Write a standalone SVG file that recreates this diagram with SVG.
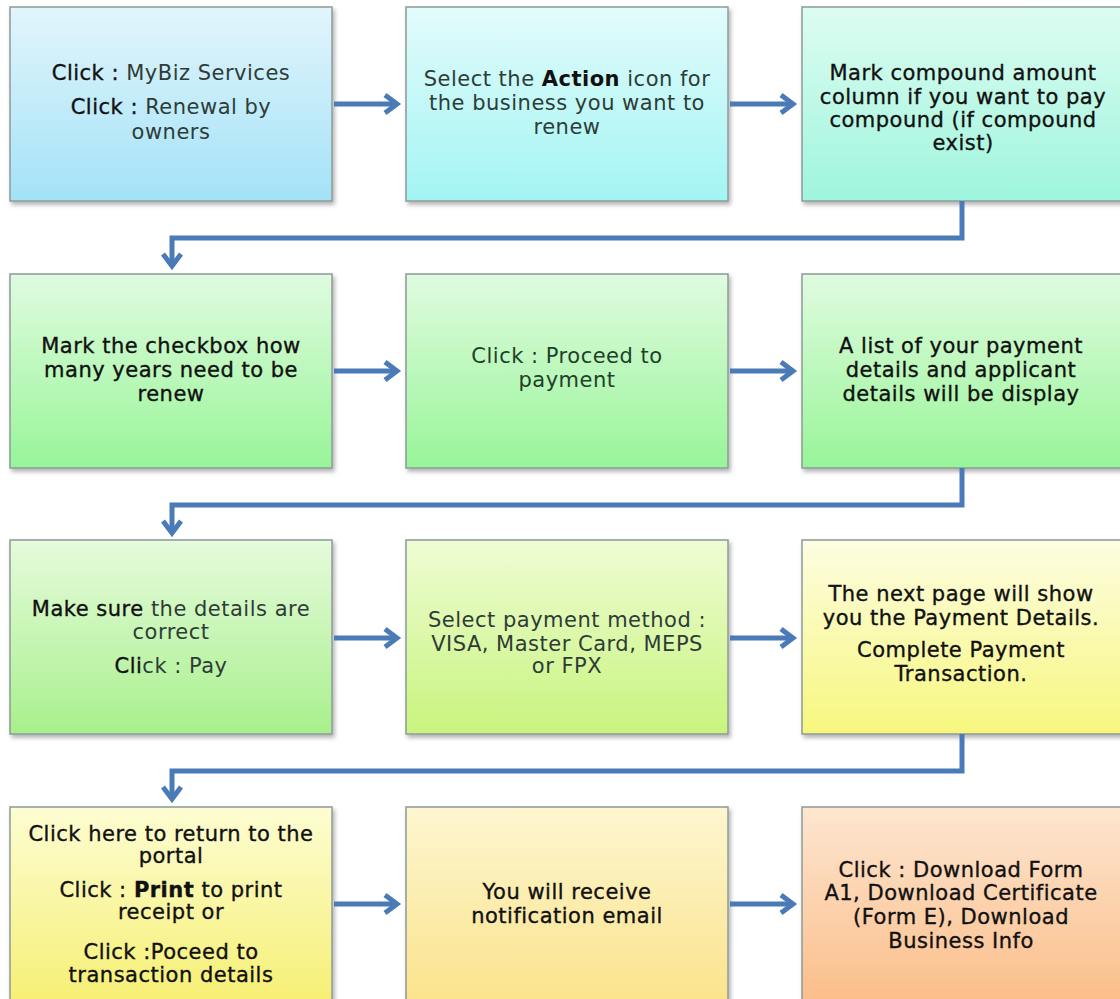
<svg xmlns="http://www.w3.org/2000/svg" width="1120" height="999" viewBox="0 0 1120 999">
<defs>
<style>
.box{stroke:#8c9a98;stroke-width:1.5;filter:url(#sh)}
.t{font-family:"DejaVu Sans","Verdana",sans-serif;font-size:21px;letter-spacing:0.5px;fill:#111;stroke:#111;stroke-width:0.35;text-anchor:middle}
.g{fill:#2e3c38;stroke:none}
.dg{fill:#21402a;stroke:none}
.b{font-weight:bold}
.c{fill:none;stroke:#4a7bb7;stroke-width:5;stroke-linejoin:miter}
.h{fill:none;stroke:#4a7bb7;stroke-width:5;stroke-linecap:butt;stroke-linejoin:miter}
</style>
<filter id="sh" x="-5%" y="-5%" width="112%" height="115%">
<feDropShadow dx="2" dy="3" stdDeviation="2" flood-color="#000" flood-opacity="0.3"/>
</filter>
<linearGradient id="g1" x1="0" y1="0" x2="0" y2="1"><stop offset="0" stop-color="#e2f5fc"/><stop offset="1" stop-color="#a3e2f7"/></linearGradient>
<linearGradient id="g2" x1="0" y1="0" x2="0" y2="1"><stop offset="0" stop-color="#e3fbfb"/><stop offset="1" stop-color="#a2f5f4"/></linearGradient>
<linearGradient id="g3" x1="0" y1="0" x2="0" y2="1"><stop offset="0" stop-color="#defcf1"/><stop offset="1" stop-color="#9ef5dd"/></linearGradient>
<linearGradient id="g4" x1="0" y1="0" x2="0" y2="1"><stop offset="0" stop-color="#e0fbe0"/><stop offset="1" stop-color="#98f598"/></linearGradient>
<linearGradient id="g7" x1="0" y1="0" x2="0" y2="1"><stop offset="0" stop-color="#e6fbdc"/><stop offset="1" stop-color="#a8f08c"/></linearGradient>
<linearGradient id="g8" x1="0" y1="0" x2="0" y2="1"><stop offset="0" stop-color="#effcd4"/><stop offset="1" stop-color="#c8f47e"/></linearGradient>
<linearGradient id="g9" x1="0" y1="0" x2="0" y2="1"><stop offset="0" stop-color="#fdfde2"/><stop offset="1" stop-color="#f7f77e"/></linearGradient>
<linearGradient id="g10" x1="0" y1="0" x2="0" y2="1"><stop offset="0" stop-color="#fdfdd2"/><stop offset="1" stop-color="#f6ef72"/></linearGradient>
<linearGradient id="g11" x1="0" y1="0" x2="0" y2="1"><stop offset="0" stop-color="#fdf6d0"/><stop offset="1" stop-color="#fbe38a"/></linearGradient>
<linearGradient id="g12" x1="0" y1="0" x2="0" y2="1"><stop offset="0" stop-color="#fde6d0"/><stop offset="1" stop-color="#fbbd88"/></linearGradient>
</defs>
<rect width="1120" height="999" fill="#fff"/>

<g id="n1"><rect class="box" x="10" y="7" width="322" height="194" fill="url(#g1)"/>
<text class="t" x="171" y="80">Click : <tspan class="g">MyBiz Services</tspan></text>
<text class="t" x="171" y="114">Click : <tspan class="g">Renewal by</tspan></text>
<text class="t" x="171" y="139"><tspan class="g">owners</tspan></text></g>

<g id="n2"><rect class="box" x="406" y="7" width="322" height="194" fill="url(#g2)"/>
<text class="t g" x="567" y="86">Select the <tspan class="b" style="fill:#111">Action</tspan> icon for</text>
<text class="t g" x="567" y="110">the business you want to</text>
<text class="t g" x="567" y="134">renew</text></g>

<g id="n3"><rect class="box" x="802" y="7" width="322" height="194" fill="url(#g3)"/>
<text class="t" x="963" y="80">Mark compound amount</text>
<text class="t" x="963" y="104">column if you want to pay</text>
<text class="t" x="963" y="127">compound (if compound</text>
<text class="t" x="963" y="150">exist)</text></g>

<g id="n4"><rect class="box" x="10" y="274" width="322" height="194" fill="url(#g4)"/>
<text class="t" x="171" y="353">Mark the checkbox how</text>
<text class="t" x="171" y="377">many years need to be</text>
<text class="t" x="171" y="401">renew</text></g>

<g id="n5"><rect class="box" x="406" y="274" width="322" height="194" fill="url(#g4)"/>
<text class="t dg" x="567" y="363">Click : Proceed to</text>
<text class="t dg" x="567" y="387">payment</text></g>

<g id="n6"><rect class="box" x="802" y="274" width="322" height="194" fill="url(#g4)"/>
<text class="t" x="961" y="353">A list of your payment</text>
<text class="t" x="961" y="377">details and applicant</text>
<text class="t" x="961" y="401">details will be display</text></g>

<g id="n7"><rect class="box" x="10" y="540" width="322" height="194" fill="url(#g7)"/>
<text class="t" x="171" y="616">Make sure <tspan class="g">the details are</tspan></text>
<text class="t g" x="171" y="639">correct</text>
<text class="t" x="171" y="673">Cli<tspan class="g">ck : Pay</tspan></text></g>

<g id="n8"><rect class="box" x="406" y="540" width="322" height="194" fill="url(#g8)"/>
<text class="t g" x="567" y="627">Select payment method :</text>
<text class="t g" x="567" y="651">VISA, Master Card, MEPS</text>
<text class="t g" x="567" y="673">or FPX</text></g>

<g id="n9"><rect class="box" x="802" y="540" width="322" height="194" fill="url(#g9)"/>
<text class="t" x="961" y="601">The next page will show</text>
<text class="t" x="961" y="625">you the Payment Details.</text>
<text class="t" x="961" y="657">Complete Payment</text>
<text class="t" x="961" y="681">Transaction.</text></g>

<g id="n10"><rect class="box" x="10" y="807" width="322" height="200" fill="url(#g10)"/>
<text class="t" x="171" y="841">Click here to return to the</text>
<text class="t" x="171" y="863">portal</text>
<text class="t" x="171" y="897">Click : <tspan class="b">Print</tspan> to print</text>
<text class="t" x="171" y="919">receipt or</text>
<text class="t" x="171" y="959">Click :Poceed to</text>
<text class="t" x="171" y="982">transaction details</text></g>

<g id="n11"><rect class="box" x="406" y="807" width="322" height="200" fill="url(#g11)"/>
<text class="t" x="567" y="899">You will receive</text>
<text class="t" x="567" y="923">notification email</text></g>

<g id="n12"><rect class="box" x="802" y="807" width="322" height="200" fill="url(#g12)"/>
<text class="t" x="961" y="877">Click : Download Form</text>
<text class="t" x="961" y="900">A1, Download Certificate</text>
<text class="t" x="961" y="924">(Form E), Download</text>
<text class="t" x="961" y="948">Business Info</text></g>

<g id="connectors">
<path class="c" d="M334 104H396"/><path class="h" d="M385 95L397 104L385 113"/>
<path class="c" d="M730 104H792"/><path class="h" d="M781 95L793 104L781 113"/>
<path class="c" d="M334 371H396"/><path class="h" d="M385 362L397 371L385 380"/>
<path class="c" d="M730 371H792"/><path class="h" d="M781 362L793 371L781 380"/>
<path class="c" d="M334 638H396"/><path class="h" d="M385 629L397 638L385 647"/>
<path class="c" d="M730 638H792"/><path class="h" d="M781 629L793 638L781 647"/>
<path class="c" d="M334 904H396"/><path class="h" d="M385 895L397 904L385 913"/>
<path class="c" d="M730 904H792"/><path class="h" d="M781 895L793 904L781 913"/>
<path class="c" d="M962 201V238H172V265"/><path class="h" d="M163 254L172 266L181 254"/>
<path class="c" d="M962 468V505H172V532"/><path class="h" d="M163 521L172 533L181 521"/>
<path class="c" d="M962 734V771H172V798"/><path class="h" d="M163 787L172 799L181 787"/>
</g>
</svg>
